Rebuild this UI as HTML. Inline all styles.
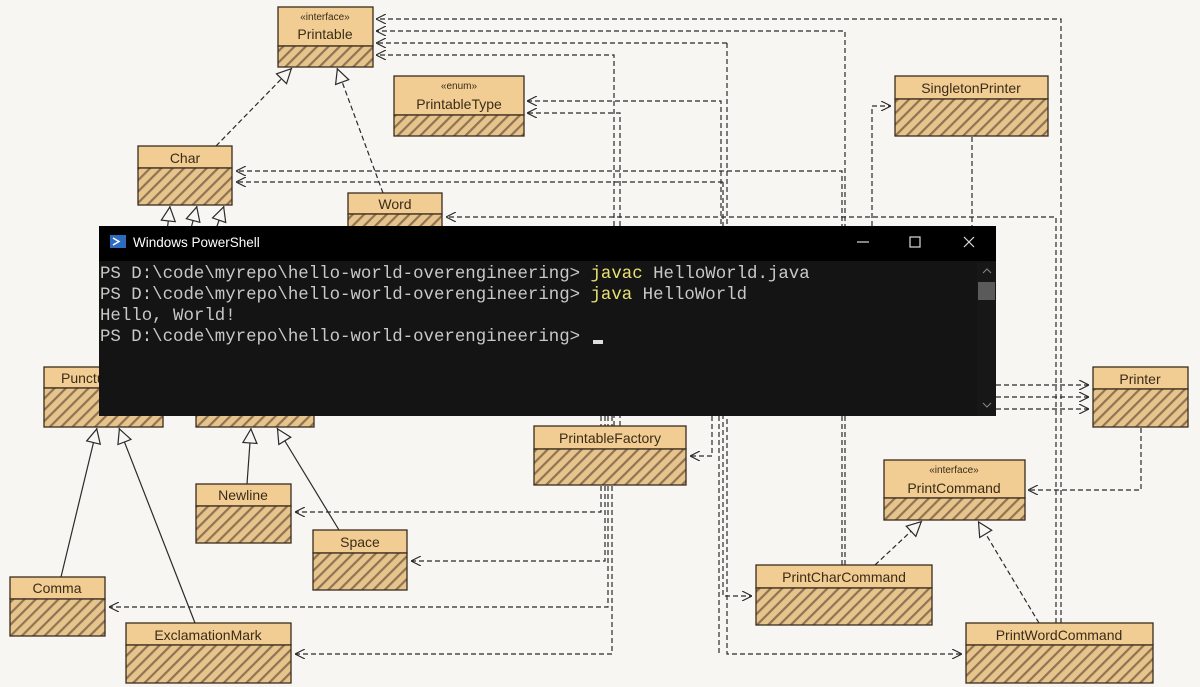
<!DOCTYPE html>
<html><head><meta charset="utf-8"><style>
html,body{margin:0;padding:0;background:#f7f6f2;}
svg{display:block;}
.n{font-family:"Liberation Sans",sans-serif;font-size:14px;fill:#3b2c17;text-anchor:middle;}
.s{font-family:"Liberation Sans",sans-serif;font-size:10px;fill:#3b2c17;text-anchor:middle;}
.d{fill:none;stroke:#2a2a2a;stroke-width:1.2;stroke-dasharray:5 3;}
.l{fill:none;stroke:#2a2a2a;stroke-width:1.2;}
.t{font-family:"Liberation Mono",monospace;font-size:17.4px;fill:#c8c8c8;}
</style></head><body>
<svg width="1200" height="687" viewBox="0 0 1200 687" xmlns="http://www.w3.org/2000/svg">
<defs>
<pattern id="h" width="8" height="8" patternUnits="userSpaceOnUse" patternTransform="rotate(45)">
<rect width="8" height="8" fill="#e6c48c"/><rect width="2.2" height="8" fill="#8f7454"/>
</pattern>
<marker id="a" viewBox="0 0 10 10" refX="10" refY="5" markerWidth="10" markerHeight="10" markerUnits="userSpaceOnUse" orient="auto">
<polyline points="0,0 10,5 0,10" fill="none" stroke="#2a2a2a" stroke-width="1.2"/></marker>
<marker id="tr" viewBox="0 0 16 16" refX="16" refY="8" markerWidth="16" markerHeight="16" markerUnits="userSpaceOnUse" orient="auto">
<polygon points="1,1 15,8 1,15" fill="#f7f6f2" stroke="#2a2a2a" stroke-width="1.2"/></marker>
</defs>
<rect width="1200" height="687" fill="#f7f6f2"/>

<!-- dependency connectors -->
<g class="d" marker-end="url(#a)">
<path d="M1061 623 V19 H376"/>
<path d="M845 565 V31 H376"/>
<path d="M727 43 H376"/>
<path d="M727 43 V654 H962"/>
<path d="M614 426 V55 H376"/>
<path d="M721 416 V101 H527"/>
<path d="M620 426 V113 H527"/>
<path d="M842 565 V171 H236"/>
<path d="M723 182 H236"/>
<path d="M723 182 V596 H752"/>
<path d="M1056 623 V217 H446"/>
<path d="M872 226 V106 H891"/>
<path d="M996 385 H1089"/>
<path d="M996 397 H1089"/>
<path d="M996 409 H1089"/>
<path d="M1141 428 V490 H1028"/>
<path d="M712 416 V456 H690"/>
<path d="M601 416 V426 M601 486 V512 H295"/>
<path d="M605 416 V426 M605 486 V561 H411"/>
<path d="M608 416 V426 M608 486 V607 H109"/>
<path d="M612 416 V426 M612 486 V654 H295"/>
</g>
<path class="d" d="M972 137 V226"/>
<path class="d" d="M719 416 V654"/>

<!-- inheritance -->
<g marker-end="url(#tr)">
<path class="d" d="M216 146 L292 68"/>
<path class="d" d="M383 193 L337 68"/>
<path class="l" d="M61 577 L97 428"/>
<path class="l" d="M195 623 L119 428"/>
<path class="l" d="M247 484 L251 428"/>
<path class="l" d="M339 530 L277 428"/>
<path class="d" d="M875 565 L922 521"/>
<path class="d" d="M1039 623 L978 521"/>
<path class="l" d="M167 232 L170 206"/>
<path class="l" d="M190 232 L197 206"/>
<path class="l" d="M215 232 L224 206"/>
</g>

<!-- boxes -->
<g stroke="#3a2c1c" stroke-width="1.3">
<rect x="278" y="7" width="95" height="39" fill="#f1cd94"/><rect x="278" y="46" width="95" height="21" fill="url(#h)"/>
<rect x="394" y="76" width="130" height="39" fill="#f1cd94"/><rect x="394" y="115" width="130" height="21" fill="url(#h)"/>
<rect x="895" y="76" width="153" height="23" fill="#f1cd94"/><rect x="895" y="99" width="153" height="37" fill="url(#h)"/>
<rect x="138" y="146" width="94" height="22" fill="#f1cd94"/><rect x="138" y="168" width="94" height="37" fill="url(#h)"/>
<rect x="348" y="193" width="94" height="21" fill="#f1cd94"/><rect x="348" y="214" width="94" height="30" fill="url(#h)"/>
<rect x="44" y="367" width="119" height="21" fill="#f1cd94"/><rect x="44" y="388" width="119" height="39" fill="url(#h)"/>
<rect x="196" y="367" width="118" height="21" fill="#f1cd94"/><rect x="196" y="388" width="118" height="39" fill="url(#h)"/>
<rect x="1093" y="367" width="95" height="22" fill="#f1cd94"/><rect x="1093" y="389" width="95" height="38" fill="url(#h)"/>
<rect x="534" y="426" width="152" height="23" fill="#f1cd94"/><rect x="534" y="449" width="152" height="36" fill="url(#h)"/>
<rect x="884" y="460" width="141" height="38" fill="#f1cd94"/><rect x="884" y="498" width="141" height="22" fill="url(#h)"/>
<rect x="196" y="484" width="95" height="22" fill="#f1cd94"/><rect x="196" y="506" width="95" height="37" fill="url(#h)"/>
<rect x="313" y="530" width="94" height="23" fill="#f1cd94"/><rect x="313" y="553" width="94" height="37" fill="url(#h)"/>
<rect x="756" y="565" width="176" height="23" fill="#f1cd94"/><rect x="756" y="588" width="176" height="37" fill="url(#h)"/>
<rect x="10" y="577" width="95" height="22" fill="#f1cd94"/><rect x="10" y="599" width="95" height="37" fill="url(#h)"/>
<rect x="126" y="623" width="165" height="22" fill="#f1cd94"/><rect x="126" y="645" width="165" height="38" fill="url(#h)"/>
<rect x="966" y="623" width="187" height="22" fill="#f1cd94"/><rect x="966" y="645" width="187" height="38" fill="url(#h)"/>
</g>
<text class="s" x="325" y="20">«interface»</text><text class="n" x="325" y="39">Printable</text>
<text class="s" x="459" y="89">«enum»</text><text class="n" x="459" y="109">PrintableType</text>
<text class="n" x="971" y="93">SingletonPrinter</text>
<text class="n" x="185" y="163">Char</text>
<text class="n" x="395" y="209">Word</text>
<text class="n" x="98" y="383">Punctuation</text>
<text class="n" x="255" y="383">Separator</text>
<text class="n" x="1140" y="384">Printer</text>
<text class="n" x="610" y="443">PrintableFactory</text>
<text class="s" x="954" y="473">«interface»</text><text class="n" x="954" y="493">PrintCommand</text>
<text class="n" x="243" y="500">Newline</text>
<text class="n" x="360" y="547">Space</text>
<text class="n" x="844" y="582">PrintCharCommand</text>
<text class="n" x="57" y="593">Comma</text>
<text class="n" x="208" y="640">ExclamationMark</text>
<text class="n" x="1059" y="640">PrintWordCommand</text>

<!-- terminal -->
<rect x="99" y="226" width="897" height="190" fill="#141414"/>
<rect x="99" y="226" width="897" height="35" fill="#000"/>
<rect x="110" y="235" width="16" height="13" fill="#2d6bc0"/>
<path d="M113 238 L119 241.5 L113 245" stroke="#fff" stroke-width="1.5" fill="none"/>
<text x="133" y="247" font-family="'Liberation Sans',sans-serif" font-size="13.5" fill="#fff">Windows PowerShell</text>
<path d="M857 242 H869" stroke="#ddd" stroke-width="1.2"/>
<rect x="910" y="237" width="10" height="10" fill="none" stroke="#ddd" stroke-width="1.2"/>
<path d="M964 237 L974 247 M974 237 L964 247" stroke="#ddd" stroke-width="1.2"/>
<rect x="977" y="262" width="19" height="154" fill="#171717"/>
<rect x="978" y="282" width="17" height="18" fill="#5a5a5a"/>
<path d="M983 273 L987 269 L991 273" stroke="#888" fill="none"/>
<path d="M983 403 L987 407 L991 403" stroke="#888" fill="none"/>
<text class="t" x="100" y="278">PS D:\code\myrepo\hello-world-overengineering&gt; <tspan fill="#e8e070">javac</tspan> HelloWorld.java</text>
<text class="t" x="100" y="299">PS D:\code\myrepo\hello-world-overengineering&gt; <tspan fill="#e8e070">java</tspan> HelloWorld</text>
<text class="t" x="100" y="320">Hello, World!</text>
<text class="t" x="100" y="341">PS D:\code\myrepo\hello-world-overengineering&gt; </text>
<rect x="593" y="340" width="10" height="4" fill="#ddd"/>
</svg>
</body></html>
